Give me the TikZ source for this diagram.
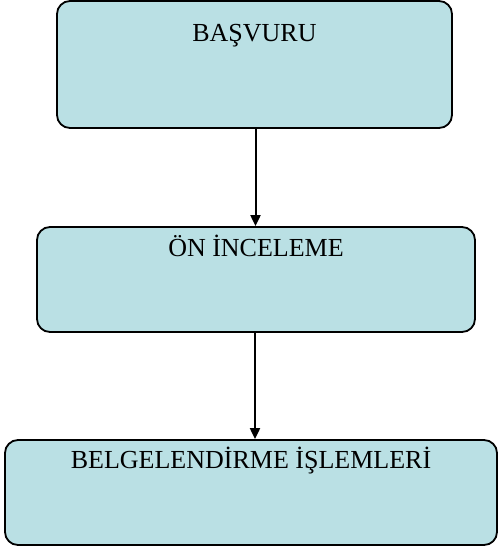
\documentclass[tikz,border=0pt]{standalone}
\usepackage{fontspec}
\setmainfont{Liberation Serif}
\usepackage{xcolor}
\usetikzlibrary{arrows.meta,positioning}
\definecolor{kutu}{RGB}{186,224,228}

\begin{document}
\begin{tikzpicture}[x=1pt, y=-1pt,
        adim/.style={draw=black, fill=kutu, rounded corners=13pt, line width=1.8pt, inner sep=0pt},
        ok/.style={-{Triangle[length=11pt,width=10pt]}, line width=2pt}]
        \useasboundingbox (0,0) rectangle (504,550);
        \fontsize{26}{30}\selectfont
        \node[adim, minimum width=395pt, minimum height=127pt,
            label={[anchor=base, yshift=-41pt]north:BAŞVURU}] (basvuru) at (254.5,64.5) {};
        \node[adim, minimum width=438pt, minimum height=105pt,
            label={[anchor=base, yshift=-30pt]north:ÖN İNCELEME}] (inceleme) at (256,279.5) {};
        \node[adim, minimum width=492pt, minimum height=105pt,
            label={[anchor=base, yshift=-29pt]north:BELGELENDİRME İŞLEMLERİ}] (belge) at (251,492.5) {};
        \coordinate (ok1) at (255.5,0);
        \coordinate (ok2) at (255,0);
        \draw[ok] (ok1 |- basvuru.south) -- (ok1 |- inceleme.north);
        \draw[ok] (ok2 |- inceleme.south) -- (ok2 |- belge.north);
    \end{tikzpicture}
\end{document}
